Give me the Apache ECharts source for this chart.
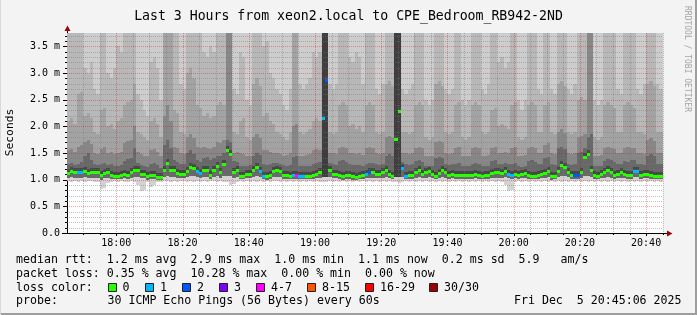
<!DOCTYPE html>
<html><head><meta charset="utf-8">
<script src="https://cdn.jsdelivr.net/npm/echarts@6/dist/echarts.min.js"></script>
<style>html,body{margin:0;padding:0;background:#f3f3f3}#c{width:697px;height:315px}</style>
</head><body><div id="c"></div>
<script>
// ---------------- data ----------------
const titleText = 'Last 3 Hours from xeon2.local to CPE_Bedroom_RB942-2ND';
const windowStart = '17:45:06';
const windowEnd = '20:45:06';
const firstSlot = '17:45';           // one column per minute (60 s step)
const xMajorLabels = ['18:00','18:20','18:40','19:00','19:20','19:40','20:00','20:20','20:40'];
const yTicks = [0, 0.5, 1, 1.5, 2, 2.5, 3, 3.5];
const yTop = 3.75;

// median rtt per minute (ms)
const median = [
1.125,1.17,1.14,1.14,1.14,1.17,1.12,1.14,1.14,1.14,
1.08,1.125,1.15,1.08,1.075,1.075,1.095,1.10,1.09,1.14,
1.18,1.18,1.11,1.105,1.06,1.095,1.095,1.05,1.045,1.18,
1.305,1.18,1.18,1.12,1.10,1.105,1.17,1.245,1.22,1.17,
1.12,1.19,1.19,1.085,1.19,1.25,1.14,1.285,1.56,1.475,
1.14,1.18,1.075,1.075,1.10,1.11,1.19,1.24,1.16,1.075,
1.06,1.09,1.16,1.19,1.16,1.09,1.08,1.075,1.08,1.09,
1.075,1.075,1.075,1.075,1.09,1.11,1.14,2.16,2.875,1.175,
1.10,1.10,1.08,1.06,1.09,1.09,1.06,1.05,1.075,1.08,
1.11,1.14,1.14,1.10,1.10,1.14,1.175,1.11,1.075,1.77,
2.29,1.22,1.075,1.08,1.09,1.15,1.175,1.11,1.14,1.17,
1.10,1.075,1.12,1.19,1.14,1.09,1.10,1.09,1.09,1.09,
1.09,1.09,1.09,1.10,1.09,1.075,1.08,1.09,1.12,1.14,
1.14,1.12,1.16,1.10,1.09,1.10,1.08,1.10,1.12,1.08,
1.075,1.075,1.09,1.10,1.125,1.16,1.065,1.075,1.16,1.28,
1.23,1.15,1.08,1.09,1.09,1.14,1.42,1.49,1.19,1.09,
1.075,1.11,1.14,1.19,1.15,1.08,1.11,1.15,1.11,1.08,
1.08,1.16,1.16,1.09,1.11,1.11,1.08,1.075,1.075,1.075];

// lost pings (of 30) per minute
const lost = [
0,0,0,1,1,0,0,0,0,0, 0,0,0,0,0,0,0,0,0,0, 0,0,0,0,0,0,0,0,0,0,
0,0,0,0,0,0,0,0,0,1, 1,0,0,0,0,0,0,0,0,0, 0,0,0,0,0,0,0,0,1,1,
0,0,0,0,0,0,0,0,1,4, 1,1,0,0,0,0,0,1,2,0, 0,0,0,0,0,0,0,0,0,0,
1,2,0,0,0,0,0,0,0,0, 0,1,1,0,0,0,0,0,0,0, 0,0,0,0,0,0,0,0,0,0,
0,0,0,0,0,0,0,0,0,0, 0,0,0,1,1,0,0,0,0,0, 0,0,0,0,0,0,0,0,0,0,
0,0,0,2,2,0,0,0,0,0, 0,0,0,0,0,0,0,0,0,0, 0,1,1,0,0,0,0,0,0,0];

// smoke: fastest ping per minute (ms)
const smokeMin = [
0.97,0.96,0.97,0.96,0.97,0.96,0.97,0.97,0.96,0.95,
0.82,0.85,0.93,0.96,0.97,0.96,0.97,0.95,0.96,0.97,
0.96,0.90,0.78,0.80,0.95,0.87,0.90,0.96,0.96,0.97,
0.97,0.96,0.97,0.96,0.97,0.97,0.96,0.97,0.96,0.97,
0.96,0.97,0.96,0.97,0.97,0.96,0.97,0.96,0.95,0.90,
0.92,0.96,0.97,0.96,0.97,0.96,0.97,0.96,0.97,0.96,
0.97,0.96,0.97,0.97,0.96,0.97,0.96,0.97,0.96,0.97,
0.96,0.97,0.96,0.97,0.96,0.97,0.96,0.95,0.95,0.97,
0.96,0.97,0.96,0.97,0.96,0.97,0.96,0.97,0.96,0.97,
0.96,0.97,0.96,0.97,0.96,0.97,0.96,0.97,0.96,0.95,
0.94,0.96,0.97,0.96,0.97,0.96,0.97,0.96,0.97,0.96,
0.97,0.96,0.97,0.96,0.97,0.96,0.97,0.96,0.97,0.96,
0.97,0.96,0.97,0.96,0.97,0.96,0.97,0.96,0.97,0.96,
0.97,0.96,0.90,0.78,0.80,0.96,0.97,0.96,0.97,0.96,
0.97,0.96,0.97,0.96,0.97,0.96,0.97,0.96,0.97,0.96,
0.97,0.96,0.97,0.96,0.97,0.96,0.97,0.96,0.97,0.96,
0.97,0.96,0.97,0.96,0.97,0.96,0.97,0.96,0.97,0.96,
0.97,0.96,0.97,0.96,0.97,0.96,0.97,0.96,0.97,0.96];

// smoke: bottom of the dense core (ms)
const coreLow = [
1.04,1.05,1.04,1.04,1.04,1.05,1.03,1.04,1.04,1.04,
1.00,1.03,1.04,1.01,1.01,1.01,1.02,1.03,1.02,1.04,
1.05,1.05,1.03,1.03,1.00,1.02,1.02,0.99,0.99,1.05,
1.06,1.05,1.05,1.03,1.03,1.03,1.05,1.06,1.06,1.05,
1.03,1.05,1.05,1.02,1.05,1.06,1.04,1.06,1.06,1.06,
1.04,1.05,1.01,1.01,1.03,1.03,1.05,1.06,1.05,1.01,
1.00,1.02,1.05,1.05,1.05,1.02,1.02,1.01,1.02,1.02,
1.01,1.01,1.01,1.01,1.02,1.03,1.04,1.05,1.05,1.05,
1.03,1.03,1.02,1.00,1.02,1.02,1.00,0.99,1.01,1.02,
1.03,1.04,1.04,1.03,1.03,1.04,1.05,1.03,1.01,1.05,
1.05,1.05,1.01,1.02,1.02,1.04,1.05,1.03,1.04,1.05,
1.03,1.01,1.03,1.05,1.04,1.02,1.03,1.02,1.02,1.02,
1.02,1.02,1.02,1.03,1.02,1.01,1.02,1.02,1.03,1.04,
1.04,1.03,1.05,1.03,1.02,1.03,1.02,1.03,1.03,1.02,
1.01,1.01,1.02,1.03,1.03,1.05,1.00,1.01,1.05,1.06,
1.06,1.05,1.02,1.02,1.02,1.04,1.06,1.06,1.05,1.02,
1.01,1.03,1.04,1.05,1.04,1.02,1.03,1.04,1.03,1.02,
1.02,1.05,1.05,1.02,1.03,1.03,1.02,1.01,1.01,1.01];

// smoke: top of darkest band (ms)
const smokeA = [
1.30,1.32,1.28,1.30,1.34,1.45,1.50,1.36,1.30,1.28,
1.30,1.32,1.28,1.30,1.26,1.25,1.27,1.35,1.38,1.40,
1.60,1.32,1.28,1.25,1.24,1.30,1.32,1.28,1.22,1.65,
1.75,1.60,1.36,1.34,1.30,1.30,1.50,1.55,1.48,1.36,
1.34,1.40,1.42,1.36,1.40,1.45,1.44,1.50,1.75,1.70,
1.35,1.34,1.26,1.25,1.25,1.27,1.45,1.50,1.46,1.30,
1.28,1.30,1.32,1.32,1.30,1.28,1.26,1.28,1.42,1.45,
1.26,1.25,1.25,1.26,1.30,1.32,1.34,4.00,4.00,1.32,
1.30,1.28,1.35,1.36,1.34,1.30,1.28,1.27,1.28,1.26,
1.30,1.32,1.32,1.30,1.28,1.30,1.45,1.48,1.44,4.00,
4.00,1.34,1.30,1.28,1.30,1.35,1.36,1.34,1.26,1.25,
1.26,1.40,1.42,1.40,1.30,1.28,1.30,1.30,1.32,1.26,
1.25,1.25,1.30,1.32,1.30,1.26,1.25,1.26,1.35,1.36,
1.30,1.30,1.32,1.30,1.30,1.32,1.25,1.24,1.26,1.35,
1.36,1.34,1.30,1.30,1.40,1.42,1.30,1.28,1.60,1.62,
1.58,1.30,1.28,1.30,1.50,1.52,1.60,1.80,1.85,1.25,
1.25,1.26,1.35,1.38,1.36,1.34,1.30,1.30,1.35,1.34,
1.36,1.36,1.30,1.30,1.28,1.45,1.48,1.44,1.30,1.30];

// smoke: top of second band (ms)
const smokeB = [
1.55,1.58,1.52,1.62,1.65,1.70,1.75,1.66,1.50,1.48,
1.58,1.62,1.50,1.52,1.48,1.50,1.52,1.68,1.72,1.75,
2.00,1.52,1.48,1.45,1.44,1.55,1.58,1.52,1.45,2.20,
2.40,2.10,1.62,1.60,1.50,1.48,1.80,1.85,1.78,1.62,
1.60,1.62,1.60,1.58,1.62,1.70,1.68,1.75,4.00,4.00,
1.50,1.52,1.50,1.48,1.45,1.45,1.80,1.85,1.78,1.55,
1.55,1.52,1.50,1.50,1.48,1.45,1.46,1.50,2.00,2.05,
1.45,1.45,1.46,1.48,1.55,1.58,1.55,4.00,4.00,1.50,
1.50,1.48,1.60,1.62,1.60,1.50,1.50,1.48,1.50,1.46,
1.60,1.62,1.60,1.50,1.48,1.50,1.80,1.82,1.78,4.00,
4.00,1.50,1.50,1.48,1.50,1.60,1.62,1.60,1.45,1.44,
1.45,1.70,1.72,1.70,1.50,1.48,1.50,1.60,1.62,1.45,
1.44,1.45,1.60,1.62,1.60,1.45,1.44,1.46,1.60,1.62,
1.50,1.50,1.52,1.50,1.60,1.62,1.45,1.44,1.46,1.60,
1.62,1.60,1.50,1.50,1.65,1.68,1.50,1.48,1.90,1.95,
1.88,1.50,1.48,1.50,1.80,1.82,1.85,4.00,4.00,1.45,
1.45,1.46,1.60,1.62,1.60,1.58,1.50,1.50,1.60,1.62,
1.60,1.60,1.50,1.50,1.48,1.75,1.78,1.72,1.50,1.50];

// smoke: top of third band (ms)
const smokeC = [
2.10,2.15,2.05,2.60,2.65,2.20,2.25,2.15,1.90,1.85,
2.30,2.35,2.00,2.05,1.95,2.10,2.15,2.40,2.45,2.50,
2.80,1.90,1.85,1.80,1.75,2.10,2.15,2.05,1.80,4.00,
4.00,4.00,2.30,2.25,1.90,1.85,3.00,3.10,2.90,2.40,
2.35,2.20,2.25,2.15,2.20,2.40,2.45,2.40,4.00,4.00,
1.90,1.85,2.10,2.15,1.80,1.75,2.80,2.90,2.75,2.20,
2.25,2.10,2.05,1.90,1.85,1.80,1.75,1.90,4.00,4.00,
1.90,1.85,1.90,1.95,2.10,2.15,2.10,4.00,4.00,1.90,
1.85,1.90,2.40,2.45,2.40,2.00,2.05,1.95,2.00,1.90,
2.40,2.45,2.40,1.90,1.85,1.90,2.80,2.85,2.75,4.00,
4.00,1.90,1.90,1.85,1.90,2.40,2.45,2.40,1.80,1.75,
1.80,2.80,2.85,2.75,1.90,1.85,1.90,2.40,2.45,1.80,
1.75,1.80,2.40,2.45,2.40,1.90,1.85,1.90,2.30,2.35,
2.00,2.05,2.00,1.95,2.40,2.45,1.80,1.75,1.80,2.40,
2.45,2.40,1.90,1.90,2.40,2.45,1.90,1.85,2.80,2.85,
2.75,1.90,1.85,1.90,2.50,2.55,2.50,4.00,4.00,1.80,
1.75,1.80,2.40,2.45,2.40,2.35,1.90,1.90,2.40,2.45,
2.40,2.35,1.90,1.90,1.85,2.80,2.85,2.75,1.90,1.90];

// smoke: top of fourth band (ms); above it the faint outer smoke
const smokeD = [
4.00,4.00,4.00,4.00,4.00,3.10,3.00,3.20,2.70,2.60,
4.00,4.00,3.00,2.90,3.10,3.50,3.40,4.00,4.00,4.00,
4.00,2.60,2.50,2.30,2.20,3.20,3.30,3.10,2.50,4.00,
4.00,4.00,4.00,4.00,2.80,2.70,4.00,4.00,4.00,4.00,
4.00,3.40,3.30,3.50,3.40,4.00,4.00,4.00,4.00,4.00,
2.70,2.60,3.40,3.30,2.50,2.40,4.00,4.00,4.00,3.50,
3.60,3.00,2.90,2.70,2.60,2.40,2.30,2.70,4.00,4.00,
2.80,2.70,2.80,2.90,3.40,3.30,3.40,4.00,4.00,2.80,
2.70,2.80,4.00,4.00,4.00,3.30,3.20,3.40,3.30,2.80,
4.00,4.00,4.00,2.70,2.60,2.80,4.00,4.00,4.00,4.00,
4.00,2.70,2.60,2.70,2.80,4.00,4.00,4.00,2.50,2.40,
2.50,4.00,4.00,4.00,2.70,2.60,2.70,4.00,4.00,2.50,
2.40,2.50,4.00,4.00,4.00,2.70,2.60,2.80,4.00,4.00,
3.20,3.30,3.10,3.20,4.00,4.00,2.50,2.30,2.50,4.00,
4.00,4.00,2.70,2.60,4.00,4.00,2.70,2.60,4.00,4.00,
4.00,2.70,2.60,2.80,4.00,4.00,4.00,4.00,4.00,2.50,
2.40,2.50,4.00,4.00,4.00,4.00,2.70,2.60,4.00,4.00,
4.00,4.00,2.70,2.60,2.80,4.00,4.00,4.00,2.80,2.70];

const lossLabels = ['0','1','2','3','4-7','8-15','16-29','30/30'];
const lossColors = ['#26ff00','#00b8ff','#0059ff','#7e00ff','#ff00ff','#ff5500','#ff0000','#a10000'];

const statLine1 = 'median rtt:  1.2 ms avg  2.9 ms max  1.0 ms min  1.1 ms now  0.2 ms sd  5.9   am/s';
const statLine2 = 'packet loss: 0.35 % avg  10.28 % max  0.00 % min  0.00 % now';
const probeLabel = 'probe:';
const probeText = '30 ICMP Echo Pings (56 Bytes) every 60s';
const stampText = 'Fri Dec  5 20:45:06 2025';
const creditText = 'RRDTOOL / TOBI OETIKER';

// ---------------- styles ----------------
const MONO = '"DejaVu Sans Mono", monospace';
const smokeColors = ['#d2d2d2', '#686868', '#878787', '#a3a3a3', '#b8b8b8', '#cdcdcd'];
const coreColor = '#484848';

function toMin(s) { const p = s.split(':').map(Number); return p[0] * 60 + p[1] + (p[2] || 0) / 60; }
function fmtTime(v) { const h = Math.floor(v / 60), m = Math.round(v - h * 60); return h + ':' + String(m).padStart(2, '0'); }
function lossBin(n) { return n === 0 ? 0 : n === 1 ? 1 : n === 2 ? 2 : n === 3 ? 3 : n <= 7 ? 4 : n <= 15 ? 5 : n < 30 ? 6 : 7; }

const t0 = toMin(firstSlot);
const smokeRows = median.map((m, i) => [t0 + i, smokeMin[i], coreLow[i], smokeA[i], smokeB[i], smokeC[i], smokeD[i]]);
const medianRows = median.map((m, i) => [t0 + i, m, lost[i]]);
const xMajor = xMajorLabels.map(toMin);
const xStart = toMin(windowStart), xEnd = toMin(windowEnd);

function colX(api, cs, t) {
  let xa = Math.round(api.coord([t, 0])[0]);
  let xb = Math.round(api.coord([t + 1, 0])[0]);
  xa = Math.max(xa, cs.x); xb = Math.min(xb, cs.x + cs.width);
  return [xa, xb];
}

function renderSmoke(params, api) {
  const cs = params.coordSys;
  const t = api.value(0);
  const [xa, xb] = colX(api, cs, t);
  if (xb <= xa) return;
  const lv = [api.value(1), api.value(2), api.value(3), api.value(4), api.value(5), api.value(6), yTop];
  const children = [];
  for (let k = 0; k < 6; k++) {
    const a = Math.min(lv[k], yTop), b = Math.min(lv[k + 1], yTop);
    if (b <= a) continue;
    const ya = Math.round(api.coord([t, a])[1]);
    const yb = Math.round(api.coord([t, b])[1]);
    if (ya <= yb) continue;
    const col = (k === 1 && lv[2] >= yTop) ? '#3e3e3e' : smokeColors[k];
    children.push({ type: 'rect', shape: { x: xa, y: yb, width: xb - xa, height: ya - yb }, style: { fill: col } });
  }
  return { type: 'group', children };
}

function renderCore(params, api) {
  const cs = params.coordSys;
  const t = api.value(0);
  const [xa, xb] = colX(api, cs, t);
  if (xb <= xa) return;
  const yc = Math.round(api.coord([t, api.value(1)])[1]);
  return { type: 'group', children: [
    { type: 'rect', shape: { x: xa, y: yc - 4, width: xb - xa, height: 4 }, style: { fill: coreColor } },
    { type: 'rect', shape: { x: xa, y: yc, width: xb - xa, height: 2 }, style: { fill: '#6e6e6e' } }
  ] };
}

function renderMedian(params, api) {
  const cs = params.coordSys;
  const t = api.value(0);
  const [xa, xb] = colX(api, cs, t);
  if (xb <= xa) return;
  const yc = Math.round(api.coord([t, api.value(1)])[1]);
  return { type: 'rect', shape: { x: xa, y: yc - 1, width: xb - xa, height: 3 },
           style: { fill: lossColors[lossBin(api.value(2))] } };
}

function renderGrid(params, api) {
  const cs = params.coordSys;
  const L = cs.x, R = cs.x + cs.width, T = cs.y, B = cs.y + cs.height;
  const ch = [];
  const minorStyle = { stroke: 'rgba(120,120,120,0.45)', lineWidth: 1, lineDash: [1, 1] };
  const majorStyle = { stroke: 'rgba(215,0,0,0.35)', lineWidth: 1, lineDash: [1, 1] };
  for (let k = 1; k * 0.1 < yTop - 1e-9; k++) {
    const v = k / 10;
    const y = Math.round(api.coord([xStart, v])[1]) + 0.5;
    const major = k % 5 === 0;
    ch.push({ type: 'line', shape: { x1: L, y1: y, x2: R, y2: y }, style: major ? majorStyle : minorStyle });
    ch.push({ type: 'line', shape: { x1: L - (major ? 4 : 2), y1: y, x2: L, y2: y }, style: { stroke: '#000', lineWidth: 1 } });
  }
  for (let m = Math.ceil(xStart / 5) * 5; m < xEnd; m += 5) {
    const x = Math.round(api.coord([m, 0])[0]) + 0.5;
    const major = xMajor.indexOf(m) >= 0;
    ch.push({ type: 'line', shape: { x1: x, y1: T, x2: x, y2: B }, style: major ? majorStyle : minorStyle });
    ch.push({ type: 'line', shape: { x1: x, y1: B, x2: x, y2: B + (major ? 3 : 2) }, style: { stroke: '#000', lineWidth: 1 } });
  }
  return { type: 'group', children: ch };
}

const chart = echarts.init(document.getElementById('c'), null, { renderer: 'canvas' });

const legendGraphics = [];
const boxX = [108, 145, 182, 219, 256, 307, 365, 429];
const labX = [122.5, 160, 197, 234, 271, 322, 380, 444];
lossLabels.forEach((lab, i) => {
  legendGraphics.push({ type: 'rect', shape: { x: boxX[i] + 0.5, y: 283.5, width: 8, height: 8 },
    style: { fill: lossColors[i], stroke: '#222', lineWidth: 1 } });
  legendGraphics.push({ type: 'text', x: labX[i], y: 287.5,
    style: { text: lab, font: '11.6px ' + MONO, fill: '#000', verticalAlign: 'middle', textVerticalAlign: 'middle' } });
});

const txt = (s, x, y, extra) => Object.assign({ type: 'text', x: x, y: y,
  style: Object.assign({ text: s, font: '11.6px ' + MONO, fill: '#000', verticalAlign: 'middle', textVerticalAlign: 'middle' }, extra || {}) });

chart.setOption({
  backgroundColor: '#f3f3f3',
  animation: false,
  title: { text: titleText, left: 'center', top: 5,
    textStyle: { fontFamily: MONO, fontSize: 13.2, fontWeight: 'normal', color: '#000' } },
  grid: { left: 67, top: 33, width: 596, height: 200, show: true, backgroundColor: '#ffffff', borderWidth: 0 },
  xAxis: {
    type: 'value', min: xStart, max: xEnd,
    axisLine: { show: true, lineStyle: { color: '#000', width: 1 } },
    axisTick: { show: false }, splitLine: { show: false },
    axisLabel: { customValues: xMajor, formatter: fmtTime, fontFamily: MONO, fontSize: 10, color: '#000', margin: 5 }
  },
  yAxis: {
    type: 'value', min: 0, max: yTop, interval: 0.5,
    axisLine: { show: true, lineStyle: { color: '#000', width: 1 } },
    axisTick: { show: false }, splitLine: { show: false },
    axisLabel: { showMaxLabel: false, fontFamily: MONO, fontSize: 10, color: '#000', margin: 7,
      formatter: v => (yTicks.indexOf(v) < 0 ? '' : (v === 0 ? '0.0' : v.toFixed(1) + ' m')) }
  },
  series: [
    { type: 'custom', name: 'smoke', data: smokeRows, renderItem: renderSmoke, silent: true, z: 1, clip: true },
    { type: 'custom', name: 'core', data: medianRows, renderItem: renderCore, silent: true, z: 2, clip: true },
    { type: 'custom', name: 'grid', data: [[xStart, 0]], renderItem: renderGrid, silent: true, z: 3 },
    { type: 'custom', name: 'median', data: medianRows, renderItem: renderMedian, silent: true, z: 4, clip: true }
  ],
  graphic: [
    { type: 'rect', shape: { x: 695, y: 0, width: 2, height: 315 }, style: { fill: '#9e9e9e' }, silent: true },
    { type: 'rect', shape: { x: 0, y: 313, width: 697, height: 2 }, style: { fill: '#9e9e9e' }, silent: true },
    { type: 'rect', shape: { x: 0, y: 0, width: 1, height: 315 }, style: { fill: '#d8d8d8' }, silent: true },
    { type: 'line', shape: { x1: 67.5, y1: 33, x2: 67.5, y2: 29 }, style: { stroke: '#000', lineWidth: 1 } },
    { type: 'polygon', shape: { points: [[67.5, 25.5], [64.5, 31], [70.5, 31]] }, style: { fill: '#a00000' } },
    { type: 'line', shape: { x1: 62, y1: 233.5, x2: 667, y2: 233.5 }, style: { stroke: '#000', lineWidth: 1 } },
    { type: 'polygon', shape: { points: [[672.5, 233.5], [667, 230.5], [667, 236.5]] }, style: { fill: '#a00000' } },
    { type: 'text', x: 10.5, y: 132.5, rotation: Math.PI / 2,
      style: { text: 'Seconds', font: '11.3px ' + MONO, fill: '#000', align: 'center', textAlign: 'center', verticalAlign: 'middle', textVerticalAlign: 'middle' } },
    { type: 'text', x: 687.5, y: 59, rotation: -Math.PI / 2,
      style: { text: creditText, font: '8px ' + MONO, fill: '#a4a4a4', align: 'center', textAlign: 'center', verticalAlign: 'middle', textVerticalAlign: 'middle' } },
    txt(statLine1, 16, 259.5),
    txt(statLine2, 16, 273.5),
    txt('loss color:', 16, 287.5),
    txt(probeLabel, 16, 300.8),
    txt(probeText, 107.5, 300.8),
    txt(stampText, 681.5, 300.8, { align: 'right', textAlign: 'right' })
  ].concat(legendGraphics)
});
</script>
</body></html>
